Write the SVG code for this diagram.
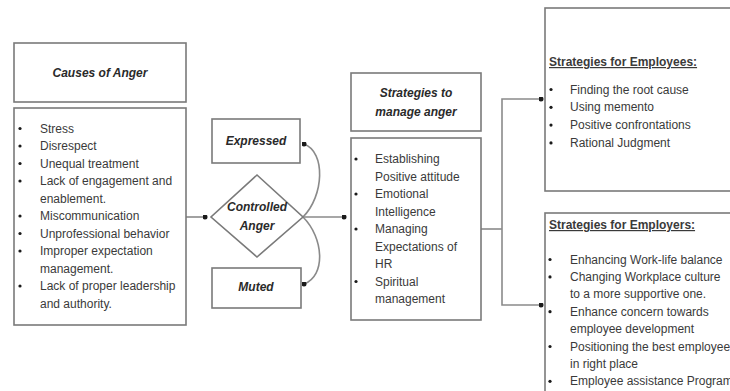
<svg xmlns="http://www.w3.org/2000/svg" width="730" height="391" viewBox="0 0 730 391">
<defs>
<marker id="dot" viewBox="0 0 6 6" refX="3" refY="3" markerWidth="5" markerHeight="5" markerUnits="userSpaceOnUse">
<circle cx="3" cy="3" r="3" fill="#1a1a1a"/>
</marker>
<style>
.box{fill:#fff;stroke:#7a7a7a;stroke-width:1.6}
.conn{fill:none;stroke:#8a8a8a;stroke-width:1.6}
.t{font-family:"Liberation Sans",Arial,sans-serif;font-size:12px;fill:#3a3a3a}
.h{font-family:"Liberation Sans",Arial,sans-serif;font-size:12px;font-weight:bold;font-style:italic;fill:#2a2a2a;text-anchor:middle}
.u{font-family:"Liberation Sans",Arial,sans-serif;font-size:12px;font-weight:bold;fill:#3a3a3a;text-decoration:underline}
.b{fill:#1a1a1a}
</style>
</defs>
<rect width="730" height="391" fill="#fff"/>

<g id="connectors">
<line class="conn" x1="186" y1="217" x2="205" y2="217" marker-end="url(#dot)"/>
<path class="conn" d="M303,217 C324,196 326,152 304,144" marker-end="url(#dot)"/>
<path class="conn" d="M303,217 C324,238 326,276 304,284" marker-end="url(#dot)"/>
<line class="conn" x1="303" y1="217" x2="344" y2="217" marker-end="url(#dot)"/>
<polyline class="conn" points="481,229 502,229"/>
<polyline class="conn" points="502,229 502,99 541,99" marker-end="url(#dot)"/>
<polyline class="conn" points="502,229 502,305 541,305" marker-end="url(#dot)"/>
</g>

<g id="causes-title">
<rect class="box" x="14" y="43" width="172" height="59"/>
<text class="h" x="100" y="77">Causes of Anger</text>
</g>

<g id="causes-list">
<rect class="box" x="14" y="108" width="172" height="217"/>
<circle class="b" cx="20" cy="128.5" r="1.6"/>
<circle class="b" cx="20" cy="146" r="1.6"/>
<circle class="b" cx="20" cy="163.5" r="1.6"/>
<circle class="b" cx="20" cy="181" r="1.6"/>
<circle class="b" cx="20" cy="216" r="1.6"/>
<circle class="b" cx="20" cy="233.5" r="1.6"/>
<circle class="b" cx="20" cy="251" r="1.6"/>
<circle class="b" cx="20" cy="286" r="1.6"/>
<text class="t" x="40" y="132.5">Stress</text>
<text class="t" x="40" y="150">Disrespect</text>
<text class="t" x="40" y="167.5">Unequal treatment</text>
<text class="t" x="40" y="185">Lack of engagement and</text>
<text class="t" x="40" y="202.5">enablement.</text>
<text class="t" x="40" y="220">Miscommunication</text>
<text class="t" x="40" y="237.5">Unprofessional behavior</text>
<text class="t" x="40" y="255">Improper expectation</text>
<text class="t" x="40" y="272.5">management.</text>
<text class="t" x="40" y="290">Lack of proper leadership</text>
<text class="t" x="40" y="307.5">and authority.</text>
</g>

<g id="expressed">
<rect class="box" x="212" y="119" width="88" height="44"/>
<text class="h" x="256" y="145">Expressed</text>
</g>

<g id="controlled-anger">
<polygon class="box" points="257,175 303,217 257,257 211,217"/>
<text class="h" x="257" y="211">Controlled</text>
<text class="h" x="257" y="230">Anger</text>
</g>

<g id="muted">
<rect class="box" x="212" y="268" width="89" height="40"/>
<text class="h" x="256" y="291">Muted</text>
</g>

<g id="strategies-title">
<rect class="box" x="351" y="73" width="130" height="58"/>
<text class="h" x="416" y="97">Strategies to</text>
<text class="h" x="416" y="116">manage anger</text>
</g>

<g id="strategies-list">
<rect class="box" x="351" y="138" width="130" height="182"/>
<circle class="b" cx="356" cy="159" r="1.6"/>
<circle class="b" cx="356" cy="194" r="1.6"/>
<circle class="b" cx="356" cy="229" r="1.6"/>
<circle class="b" cx="356" cy="281.5" r="1.6"/>
<text class="t" x="375" y="163">Establishing</text>
<text class="t" x="375" y="180.5">Positive attitude</text>
<text class="t" x="375" y="198">Emotional</text>
<text class="t" x="375" y="215.5">Intelligence</text>
<text class="t" x="375" y="233">Managing</text>
<text class="t" x="375" y="250.5">Expectations of</text>
<text class="t" x="375" y="268">HR</text>
<text class="t" x="375" y="285.5">Spiritual</text>
<text class="t" x="375" y="303">management</text>
</g>

<g id="employees">
<rect class="box" x="545" y="8" width="200" height="183"/>
<text class="u" x="549" y="66">Strategies for Employees:</text>
<circle class="b" cx="551" cy="89.5" r="1.6"/>
<circle class="b" cx="551" cy="107.3" r="1.6"/>
<circle class="b" cx="551" cy="125.1" r="1.6"/>
<circle class="b" cx="551" cy="142.9" r="1.6"/>
<text class="t" x="570" y="93.5">Finding the root cause</text>
<text class="t" x="570" y="111.3">Using memento</text>
<text class="t" x="570" y="129.1">Positive confrontations</text>
<text class="t" x="570" y="146.9">Rational Judgment</text>
</g>

<g id="employers">
<rect class="box" x="545" y="213" width="200" height="200"/>
<text class="u" x="549" y="229">Strategies for Employers:</text>
<circle class="b" cx="550" cy="259.5" r="1.6"/>
<circle class="b" cx="550" cy="276.9" r="1.6"/>
<circle class="b" cx="550" cy="311.7" r="1.6"/>
<circle class="b" cx="550" cy="346.5" r="1.6"/>
<circle class="b" cx="550" cy="381.3" r="1.6"/>
<text class="t" x="570" y="263.5">Enhancing Work-life balance</text>
<text class="t" x="570" y="280.9">Changing Workplace culture</text>
<text class="t" x="570" y="298.3">to a more supportive one.</text>
<text class="t" x="570" y="315.7">Enhance concern towards</text>
<text class="t" x="570" y="333.1">employee development</text>
<text class="t" x="570" y="350.5">Positioning the best employee</text>
<text class="t" x="570" y="367.9">in right place</text>
<text class="t" x="570" y="385.3">Employee assistance Program</text>
</g>
</svg>
